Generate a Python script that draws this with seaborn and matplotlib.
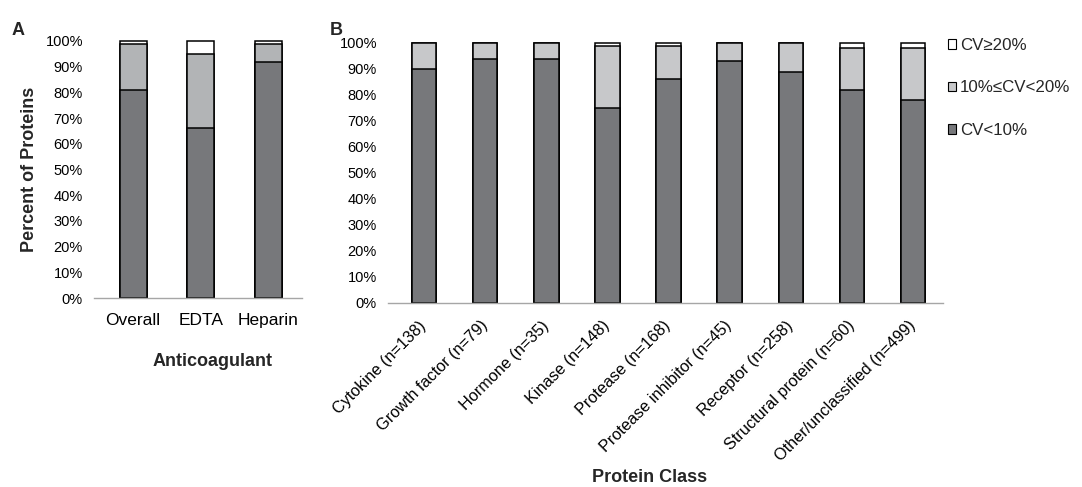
import matplotlib
matplotlib.use("Agg")
import matplotlib.pyplot as plt
import seaborn as sns
import numpy as np
from matplotlib.patches import Patch
from matplotlib.ticker import FuncFormatter

# ---- data ----
anticoag = ["Overall", "EDTA", "Heparin"]
a_low = [81, 66, 92]      # CV<10%
a_mid = [18, 29, 7]       # 10%<=CV<20%
a_high = [1, 5, 1]        # CV>=20%

classes = ["Cytokine (n=138)", "Growth factor (n=79)", "Hormone (n=35)",
           "Kinase (n=148)", "Protease (n=168)", "Protease inhibitor (n=45)",
           "Receptor (n=258)", "Structural protein (n=60)", "Other/unclassified (n=499)"]
b_low = [90, 94, 94, 75, 86, 93, 89, 82, 78]
b_mid = [10, 6, 6, 24, 13, 7, 11, 16, 20]
b_high = [0, 0, 0, 1, 1, 0, 0, 2, 2]

legend_labels = ["CV\u226520%", "10%\u2264CV<20%", "CV<10%"]
yticks = [0, 10, 20, 30, 40, 50, 60, 70, 80, 90, 100]

sns.set_theme(style="white")
plt.rcParams['font.family'] = ['Liberation Sans', 'DejaVu Sans']

DARK = "#77787b"
LIGHT_A = "#b2b4b6"
LIGHT_B = "#c7c8ca"
WHITE = "#ffffff"

fig = plt.figure(figsize=(10.82, 4.87), dpi=100)
W, H = 1082, 487
axA = fig.add_axes([94 / W, 1 - 298 / H, 208 / W, 257 / H])
axB = fig.add_axes([388 / W, 1 - 302.5 / H, 555 / W, 259.5 / H])


def stacked(ax, cats, low, mid, high, light):
    low = np.array(low, float)
    mid = np.array(mid, float)
    high = np.array(high, float)
    for vals, col in [(low + mid + high, WHITE), (low + mid, light), (low, DARK)]:
        sns.barplot(x=cats, y=vals, color=col, width=0.4, edgecolor="black",
                    linewidth=1.1, saturation=1, errorbar=None, ax=ax)
    for p in ax.patches:
        p.set_clip_on(False)
    ax.set_ylim(0, 100)
    ax.set_yticks(yticks)
    ax.yaxis.set_major_formatter(FuncFormatter(lambda v, _: f"{int(v)}%"))
    for s in ["top", "right", "left"]:
        ax.spines[s].set_visible(False)
    ax.spines["bottom"].set_color("#a6a6a6")
    ax.spines["bottom"].set_linewidth(1.0)
    ax.tick_params(axis="both", length=0, labelsize=10.5, colors="black")
    ax.tick_params(axis="y", pad=8)


stacked(axA, anticoag, a_low, a_mid, a_high, LIGHT_A)
axA.set_xlim(-0.58, 2.5)
axA.tick_params(axis="x", pad=11, labelsize=12.5)
axA.set_ylabel("Percent of Proteins", fontsize=13, fontweight="bold")
axA.yaxis.set_label_coords(-0.27, 0.5)
axA.set_xlabel("Anticoagulant", fontsize=13, fontweight="bold")
axA.xaxis.set_label_coords(0.572, -0.213)

stacked(axB, classes, b_low, b_mid, b_high, LIGHT_B)
axB.set_xlim(-0.59, 8.49)
axB.set_xticks(range(len(classes)))
axB.set_xticklabels(classes, rotation=45, ha="right", va="center",
                    rotation_mode="anchor", fontsize=11.7)
axB.tick_params(axis="x", pad=15)
axB.set_xlabel("Protein Class", fontsize=13, fontweight="bold")
axB.xaxis.set_label_coords(0.472, -0.64)

fig.text(12 / W, 1 - 35 / H, "A", fontsize=13, fontweight="bold")
fig.text(330 / W, 1 - 35 / H, "B", fontsize=13, fontweight="bold")

handles = [Patch(facecolor=WHITE, edgecolor="black", linewidth=0.8),
           Patch(facecolor=LIGHT_B, edgecolor="black", linewidth=0.8),
           Patch(facecolor=DARK, edgecolor="black", linewidth=0.8)]
fig.legend(handles, legend_labels, loc="upper left",
           bbox_to_anchor=(948 / W, 1 - 38 / H), frameon=False,
           fontsize=12.2, handlelength=0.5, handleheight=0.5,
           handletextpad=0.2, labelspacing=1.62, borderpad=0, borderaxespad=0)

fig.savefig("out.png", dpi=100)
